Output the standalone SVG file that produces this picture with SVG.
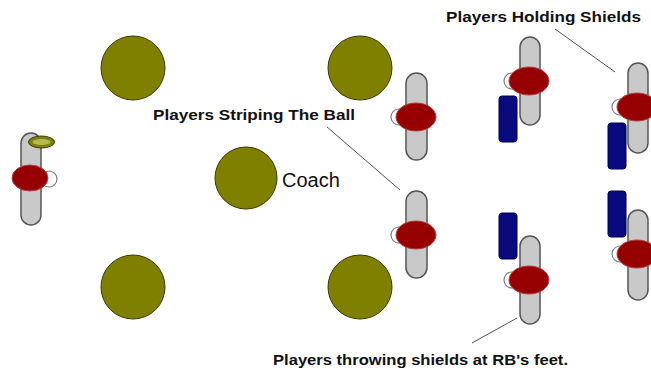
<svg xmlns="http://www.w3.org/2000/svg" width="651" height="373" viewBox="0 0 651 373">
<style>
.cone{fill:#808000;stroke:#3a3a00;stroke-width:1}
.pill{fill:#c9c9c9;stroke:#555555;stroke-width:1.5}
.body{fill:#960000;stroke:#b04040;stroke-width:1}
.head{fill:#ffffff;stroke:#808080;stroke-width:1.2}
.shield{fill:#0a0a80;stroke:#000050;stroke-width:1}
.lbl{font-family:"Liberation Sans",Arial,sans-serif;font-weight:bold;font-size:15px;fill:#111}
.lead{stroke:#555;stroke-width:1;fill:none}
</style>
<rect width="651" height="373" fill="#ffffff"/>
<g id="cone1"><circle class="cone" cx="133" cy="68" r="32"/></g>
<g id="cone2"><circle class="cone" cx="360" cy="68" r="32"/></g>
<g id="coach"><circle class="cone" cx="246" cy="178" r="31"/>
<text x="282" y="187" font-family="Liberation Sans,Arial,sans-serif" font-size="20" fill="#111">Coach</text></g>
<g id="cone3"><circle class="cone" cx="133" cy="287" r="32"/></g>
<g id="cone4"><circle class="cone" cx="360" cy="287" r="32"/></g>

<g id="rb">
<rect class="pill" x="21" y="133" width="20" height="92" rx="10"/>
<circle class="head" cx="49" cy="179" r="8"/>
<ellipse class="body" cx="30" cy="178" rx="18" ry="13"/>
<ellipse cx="41.5" cy="142" rx="13" ry="6" fill="#7f8010" stroke="#3a3a00" stroke-width="1"/>
<ellipse cx="41.5" cy="142" rx="9" ry="3" fill="#b8b850"/>
</g>
<g id="striper1">
<rect class="pill" x="406" y="73" width="21" height="87" rx="10.5"/>
<circle class="head" cx="399" cy="117" r="8"/>
<ellipse class="body" cx="416" cy="117" rx="20" ry="14"/>
</g>
<g id="striper2">
<rect class="pill" x="406" y="191" width="21" height="87" rx="10.5"/>
<circle class="head" cx="399" cy="235" r="8"/>
<ellipse class="body" cx="416" cy="235" rx="20" ry="14"/>
</g>
<g id="holder1">
<rect class="pill" x="520" y="37" width="20" height="88" rx="10"/>
<circle class="head" cx="512" cy="81" r="8"/>
<ellipse class="body" cx="529" cy="81" rx="20" ry="14"/>
<rect class="shield" x="499" y="96" width="18" height="46" rx="3"/>
</g>
<g id="holder2">
<rect class="pill" x="628" y="63" width="20" height="90" rx="10"/>
<circle class="head" cx="620" cy="107" r="8"/>
<ellipse class="body" cx="637" cy="107" rx="20" ry="14"/>
<rect class="shield" x="608" y="123" width="18" height="46" rx="3"/>
</g>
<g id="thrower1">
<rect class="pill" x="520" y="236" width="20" height="88" rx="10"/>
<circle class="head" cx="512" cy="280" r="8"/>
<ellipse class="body" cx="529" cy="280" rx="20" ry="14"/>
<rect class="shield" x="499" y="213" width="18" height="46" rx="3"/>
</g>
<g id="thrower2">
<rect class="pill" x="628" y="210" width="20" height="90" rx="10"/>
<circle class="head" cx="620" cy="254" r="8"/>
<ellipse class="body" cx="637" cy="254" rx="20" ry="14"/>
<rect class="shield" x="608" y="191" width="18" height="46" rx="3"/>
</g>

<g id="labels">
<text class="lbl" x="153" y="120" textLength="202" lengthAdjust="spacingAndGlyphs">Players Striping The Ball</text>
<text class="lbl" x="446" y="22" textLength="195" lengthAdjust="spacingAndGlyphs">Players Holding Shields</text>
<text class="lbl" x="273" y="365" textLength="295" lengthAdjust="spacingAndGlyphs">Players throwing shields at RB's feet.</text>
</g>
<g id="connectors">
<line class="lead" x1="555" y1="29" x2="615" y2="72"/>
<line class="lead" x1="327" y1="127" x2="400" y2="190"/>
<line class="lead" x1="472" y1="343" x2="517" y2="318"/>
</g>
</svg>
